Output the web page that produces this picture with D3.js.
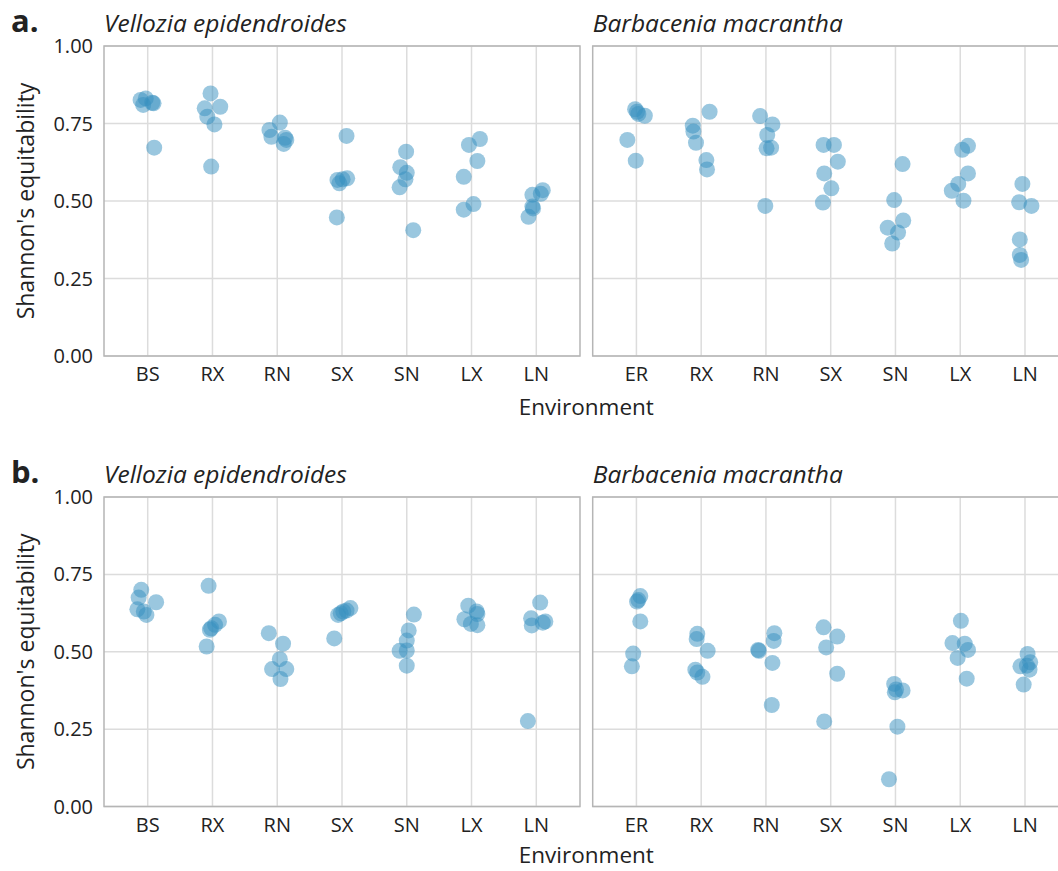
<!DOCTYPE html>
<html>
<head>
<meta charset="utf-8">
<script src="https://cdn.jsdelivr.net/npm/d3@7"></script>
<style>
  body { margin: 0; background: #fff; }
  text { font-family: "Open Sans", "Noto Sans", sans-serif; fill: #222; }
</style>
</head>
<body>
<div id="chart"></div>
<script>
// categories
const envVellozia = ["BS", "RX", "RN", "SX", "SN", "LX", "LN"];
const envBarbacenia = ["ER", "RX", "RN", "SX", "SN", "LX", "LN"];
const yTicks = [0, 0.25, 0.5, 0.75, 1];
const yTickLabels = ["0.00", "0.25", "0.50", "0.75", "1.00"];

// Shannon's equitability, one inner array per environment (panel a)
const aVelloziaValues = [
  [0.826, 0.831, 0.810, 0.817, 0.815, 0.672],
  [0.847, 0.799, 0.804, 0.772, 0.747, 0.611],
  [0.753, 0.729, 0.707, 0.704, 0.697, 0.684],
  [0.710, 0.568, 0.557, 0.570, 0.573, 0.447],
  [0.659, 0.609, 0.591, 0.570, 0.544, 0.406],
  [0.681, 0.700, 0.629, 0.578, 0.490, 0.472],
  [0.520, 0.535, 0.523, 0.482, 0.476, 0.449]
];
const aVelloziaJitter = [
  [-0.11, -0.03, -0.07, 0.07, 0.09, 0.10],
  [-0.03, -0.12, 0.12, -0.08, 0.03, -0.02],
  [0.04, -0.12, -0.09, 0.12, 0.14, 0.10],
  [0.07, -0.07, -0.04, 0.01, 0.08, -0.08],
  [-0.01, -0.10, 0.00, -0.02, -0.11, 0.10],
  [-0.04, 0.13, 0.09, -0.12, 0.03, -0.12],
  [-0.06, 0.10, 0.07, -0.06, -0.05, -0.12]
];
const aBarbaceniaValues = [
  [0.796, 0.788, 0.781, 0.775, 0.697, 0.630],
  [0.788, 0.743, 0.724, 0.688, 0.632, 0.602],
  [0.774, 0.747, 0.713, 0.670, 0.672, 0.484],
  [0.681, 0.681, 0.627, 0.589, 0.541, 0.495],
  [0.619, 0.503, 0.437, 0.414, 0.398, 0.363],
  [0.678, 0.665, 0.589, 0.555, 0.533, 0.501],
  [0.555, 0.496, 0.484, 0.376, 0.326, 0.310]
];
const aBarbaceniaJitter = [
  [-0.02, 0.01, 0.03, 0.13, -0.14, -0.01],
  [0.13, -0.13, -0.12, -0.08, 0.08, 0.09],
  [-0.09, 0.10, 0.02, 0.01, 0.08, -0.01],
  [-0.11, 0.05, 0.11, -0.10, 0.01, -0.12],
  [0.11, -0.02, 0.12, -0.12, 0.04, -0.05],
  [0.12, 0.03, 0.12, -0.03, -0.13, 0.05],
  [-0.04, -0.09, 0.10, -0.08, -0.08, -0.06]
];

// panel b
const bVelloziaValues = [
  [0.700, 0.675, 0.637, 0.630, 0.619, 0.660],
  [0.713, 0.598, 0.587, 0.576, 0.571, 0.517],
  [0.560, 0.526, 0.476, 0.444, 0.444, 0.412],
  [0.641, 0.633, 0.630, 0.624, 0.619, 0.543],
  [0.620, 0.569, 0.536, 0.504, 0.503, 0.455],
  [0.649, 0.630, 0.622, 0.605, 0.590, 0.586],
  [0.659, 0.608, 0.598, 0.594, 0.585, 0.276]
];
const bVelloziaJitter = [
  [-0.10, -0.14, -0.16, -0.06, -0.02, 0.13],
  [-0.06, 0.10, 0.04, -0.02, -0.04, -0.09],
  [-0.13, 0.09, 0.04, -0.08, 0.14, 0.05],
  [0.13, 0.07, 0.02, -0.02, -0.06, -0.12],
  [0.11, 0.03, 0.00, 0.00, -0.11, 0.00],
  [-0.05, 0.08, 0.09, -0.11, -0.01, 0.09],
  [0.06, -0.08, 0.14, 0.10, -0.07, -0.13]
];
const bBarbaceniaValues = [
  [0.680, 0.667, 0.662, 0.598, 0.494, 0.453],
  [0.558, 0.541, 0.503, 0.442, 0.433, 0.419],
  [0.506, 0.503, 0.560, 0.535, 0.464, 0.328],
  [0.579, 0.549, 0.514, 0.429, 0.275],
  [0.396, 0.378, 0.369, 0.375, 0.258, 0.088],
  [0.600, 0.528, 0.526, 0.506, 0.480, 0.413],
  [0.493, 0.466, 0.453, 0.455, 0.442, 0.394]
];
const bBarbaceniaJitter = [
  [0.06, 0.03, 0.01, 0.06, -0.05, -0.07],
  [-0.06, -0.07, 0.10, -0.09, -0.06, 0.02],
  [-0.12, -0.11, 0.13, 0.12, 0.10, 0.09],
  [-0.11, 0.10, -0.07, 0.10, -0.10],
  [-0.02, 0.01, -0.01, 0.11, 0.03, -0.10],
  [0.01, -0.12, 0.07, 0.12, -0.04, 0.10],
  [0.04, 0.08, -0.07, 0.03, 0.07, -0.02]
];

const width = 1058;
const height = 871;
const pointColor = "#3690c0";

const svg = d3.select("#chart")
  .append("svg")
  .attr("width", width)
  .attr("height", height);

const panels = [
  { label: "a.", top: 46, bottom: 356,
    facets: [
      { title: "Vellozia epidendroides", cats: envVellozia, values: aVelloziaValues, jitter: aVelloziaJitter },
      { title: "Barbacenia macrantha", cats: envBarbacenia, values: aBarbaceniaValues, jitter: aBarbaceniaJitter }
    ] },
  { label: "b.", top: 497, bottom: 806.5,
    facets: [
      { title: "Vellozia epidendroides", cats: envVellozia, values: bVelloziaValues, jitter: bVelloziaJitter },
      { title: "Barbacenia macrantha", cats: envBarbacenia, values: bBarbaceniaValues, jitter: bBarbaceniaJitter }
    ] }
];

const facetLefts = [104, 592.7];
const facetWidth = 476;

panels.forEach(panel => {
  const y = d3.scaleLinear().domain([0, 1]).range([panel.bottom, panel.top]);

  svg.append("text")
    .attr("x", 11)
    .attr("y", panel.top - 14)
    .style("font-size", "31px")
    .style("font-weight", "bold")
    .text(panel.label);

  panel.facets.forEach((facet, fi) => {
    const left = facetLefts[fi];
    const x = d3.scalePoint()
      .domain(facet.cats)
      .range([left, left + facetWidth])
      .padding(0.675);

    const g = svg.append("g");

    // grid
    g.selectAll(".hgrid")
      .data(yTicks)
      .enter()
      .append("line")
      .attr("x1", left).attr("x2", left + facetWidth)
      .attr("y1", d => y(d)).attr("y2", d => y(d))
      .style("stroke", "#dcdcdc")
      .style("stroke-width", 1.5);

    g.selectAll(".vgrid")
      .data(facet.cats)
      .enter()
      .append("line")
      .attr("x1", d => x(d)).attr("x2", d => x(d))
      .attr("y1", panel.top).attr("y2", panel.bottom)
      .style("stroke", "#dcdcdc")
      .style("stroke-width", 1.5);

    // points
    const pts = [];
    facet.cats.forEach((c, ci) => {
      facet.values[ci].forEach((v, k) => {
        pts.push({ cat: c, value: v, jit: facet.jitter[ci][k] });
      });
    });

    g.selectAll("circle")
      .data(pts)
      .enter()
      .append("circle")
      .attr("cx", d => x(d.cat) + d.jit * x.step())
      .attr("cy", d => y(d.value))
      .attr("r", 8)
      .style("fill", pointColor)
      .style("fill-opacity", 0.5);

    // border
    g.append("rect")
      .attr("x", left).attr("y", panel.top)
      .attr("width", facetWidth).attr("height", panel.bottom - panel.top)
      .style("fill", "none")
      .style("stroke", "#b5b5b5")
      .style("stroke-width", 1.5);

    // x tick labels
    g.selectAll(".xlab")
      .data(facet.cats)
      .enter()
      .append("text")
      .attr("x", d => x(d))
      .attr("y", panel.bottom + 25)
      .attr("text-anchor", "middle")
      .style("font-size", "20px")
      .text(d => d);

    // facet title
    svg.append("text")
      .attr("x", left)
      .attr("y", panel.top - 14)
      .style("font-size", "24.5px")
      .style("font-style", "italic")
      .text(facet.title);

    if (fi === 0) {
      g.selectAll(".ylab")
        .data(yTicks)
        .enter()
        .append("text")
        .attr("x", left - 11)
        .attr("y", d => y(d))
        .attr("dy", "0.35em")
        .attr("text-anchor", "end")
        .style("font-size", "20px")
        .text((d, i) => yTickLabels[i]);
    }
  });

  // axis titles
  svg.append("text")
    .attr("x", (facetLefts[0] + facetLefts[1] + facetWidth) / 2)
    .attr("y", Math.min(panel.bottom + 59, height - 8))
    .attr("text-anchor", "middle")
    .style("font-size", "22.5px")
    .text("Environment");

  svg.append("text")
    .attr("transform", `translate(34, ${(panel.top + panel.bottom) / 2}) rotate(-90)`)
    .attr("text-anchor", "middle")
    .style("font-size", "23px")
    .text("Shannon's equitability");
});
</script>
</body>
</html>
